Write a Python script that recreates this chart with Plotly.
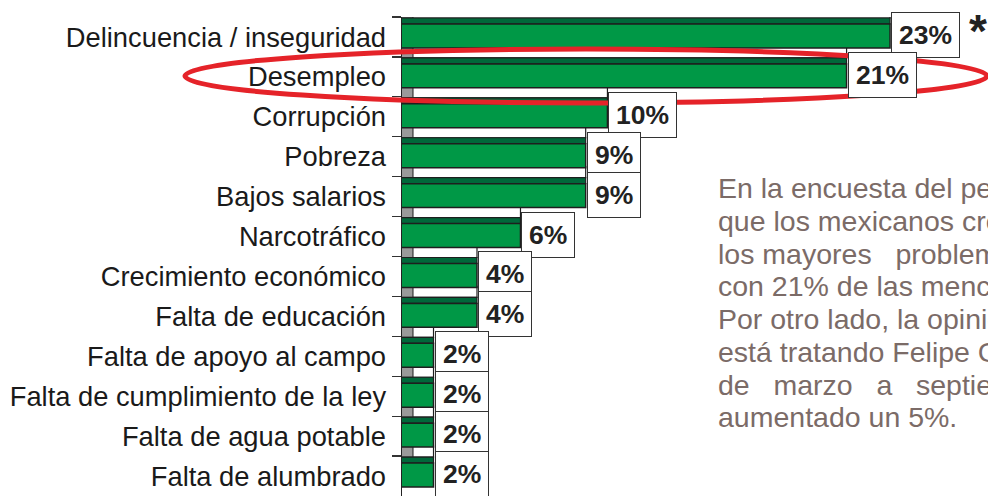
import plotly.graph_objects as go

# ---------------- data ----------------
categories = [
    "Delincuencia / inseguridad",
    "Desempleo",
    "Corrupción",
    "Pobreza",
    "Bajos salarios",
    "Narcotráfico",
    "Crecimiento económico",
    "Falta de educación",
    "Falta de apoyo al campo",
    "Falta de cumplimiento de la ley",
    "Falta de agua potable",
    "Falta de alumbrado",
]
values = [23, 21, 10, 9, 9, 6, 4, 4, 2, 2, 2, 2]
value_labels = [f"{v}%" for v in values]

text_lines = [
    "En la encuesta del periodo",
    "que los mexicanos creen",
    "los mayores\u00a0\u00a0\u00a0problemas",
    "con 21% de las menciones",
    "Por otro lado, la opinión",
    "está tratando Felipe Calderón",
    "de\u00a0\u00a0\u00a0marzo\u00a0\u00a0\u00a0a\u00a0\u00a0\u00a0septiembre",
    "aumentado un 5%.",
]

# ---------------- layout geometry ----------------
FW, FH = 988, 496
L, R, T, B = 402, 0, 17, 0
W, H = FW - L - R, FH - T - B
X0, XSCALE = 0.55, 21.74         # axis start value and px per unit
X1 = X0 + W / XSCALE
FONT = "Liberation Sans, Arial, sans-serif"

GREEN = "#009846"
DARKGREEN = "#00683a"
EDGE = "#1e1e1e"


def px_x(px):
    return (px - L) / W


def px_y(py):
    return 1 - (py - T) / H


fig = go.Figure()

# back "floor" strip of each 3D bar
fig.add_trace(go.Bar(
    y=categories, x=values, orientation="h",
    offset=-0.75, width=0.275,
    marker=dict(color="white", line=dict(color=EDGE, width=1.2)),
    hoverinfo="skip", showlegend=False,
))
# grey wall piece at the axis
wall = [X0 + 11 / XSCALE] * len(categories)
fig.add_trace(go.Bar(
    y=categories, x=wall, orientation="h",
    offset=-0.75, width=0.275,
    marker=dict(color="#9a9a9a", line=dict(color=EDGE, width=1)),
    hoverinfo="skip", showlegend=False,
))
# top face of the bar
fig.add_trace(go.Bar(
    y=categories, x=values, orientation="h",
    offset=-0.475, width=0.15,
    marker=dict(color=DARKGREEN, line=dict(color=EDGE, width=1.2)),
    hoverinfo="skip", showlegend=False,
))
# front face of the bar
fig.add_trace(go.Bar(
    y=categories, x=values, orientation="h",
    offset=-0.325, width=0.6,
    marker=dict(color=GREEN, line=dict(color=EDGE, width=1.5)),
    hoverinfo="skip", showlegend=False,
))

annotations = []
# value label boxes
for c, v, lab in zip(categories, values, value_labels):
    annotations.append(dict(
        x=v, y=c, xref="x", yref="y", text=f"<b>{lab}</b>",
        xanchor="left", yanchor="middle", showarrow=False,
        xshift=1, yshift=2,
        font=dict(family=FONT, size=26.5, color="#222222"),
        bgcolor="white", bordercolor="#333333", borderwidth=1, borderpad=7,
    ))

# asterisk
annotations.append(dict(
    x=px_x(967), y=px_y(3), xref="paper", yref="paper", text="<b>*</b>",
    xanchor="left", yanchor="top", showarrow=False,
    font=dict(family=FONT, size=46, color="#222222"),
))

# text block
line_y = [188, 221, 254, 286, 319, 352, 385, 417]
for t, y in zip(text_lines, line_y):
    annotations.append(dict(
        x=px_x(717), y=px_y(y), xref="paper", yref="paper", text=t,
        xanchor="left", yanchor="middle", showarrow=False, borderpad=0,
        font=dict(family=FONT, size=28.5, color="#7b6b67"),
    ))

shapes = [dict(
    type="circle", xref="paper", yref="paper",
    x0=px_x(185), x1=px_x(987), y0=px_y(103), y1=px_y(49),
    line=dict(color="#e52329", width=5), layer="above",
)]

fig.update_layout(
    width=FW, height=FH,
    margin=dict(l=L, r=R, t=T, b=B, pad=0),
    paper_bgcolor="white", plot_bgcolor="white",
    barmode="overlay", showlegend=False,
    annotations=annotations, shapes=shapes,
    xaxis=dict(visible=False, range=[X0, X1], fixedrange=True),
    yaxis=dict(
        type="category", categoryorder="array", categoryarray=categories,
        range=[len(categories) - 0.5, -0.5],
        showline=True, linecolor="#222222", linewidth=1.5,
        ticks="outside", tickson="boundaries", ticklen=9,
        tickcolor="#333333", tickwidth=1.2, ticklabelstandoff=9,
        showgrid=False, zeroline=False,
        tickfont=dict(family=FONT, size=27.3, color="#1a1a1a"),
        fixedrange=True,
    ),
)

fig.write_html(
    "out.html",
    config={"displayModeBar": False, "staticPlot": True},
    post_script="document.body.style.margin='0px';document.body.style.overflow='hidden';",
)
